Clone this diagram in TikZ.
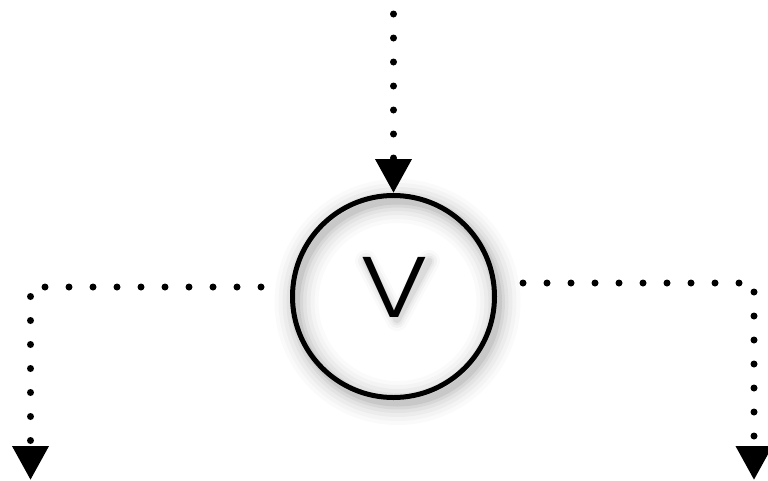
\documentclass[tikz,border=0pt]{standalone}
\usepackage{fontspec}
\IfFontExistsTF{Poppins Light}{\newfontfamily\vfont{Poppins Light}}{%
  \IfFontExistsTF{Poppins-Light.otf}{\newfontfamily\vfont{Poppins-Light.otf}}{%
    \newfontfamily\vfont{Poppins}}}
\usetikzlibrary{arrows.meta}
\tikzset{
  dotline/.style={line width=7pt, line cap=round, dash pattern=on 0pt off 24pt,
    -{Triangle[width=35pt,length=34pt]}},
  ring/.style={circle, draw, line width=5pt, minimum size=202pt, inner sep=0pt},
}
\begin{document}
\begin{tikzpicture}[x=1pt,y=-1pt]
\useasboundingbox (0,0) rectangle (768,480);
% glow / shadow of the ring
\foreach \w/\o in {44/0.02,36/0.025,28/0.03,20/0.04,13/0.05,7/0.07}
  \draw[black, opacity=\o, line width=\w pt] (397.5,302) circle[radius=101];
% soft shadow of the letter
\foreach \w/\o in {22/0.02,16/0.03,11/0.04,7/0.06}
  \draw[black, opacity=\o, line width=\w pt, line join=round, line cap=round]
    (366,261) -- (397,320) -- (429,261);
\node[ring] (c) at (393.5,296.5) {};
\node[inner sep=0pt, xscale=1.2, transform shape] (v) at (394,287.5) {\vfont\fontsize{86}{86}\selectfont V};
\coordinate (ts) at (393.5,14);
\coordinate (ls) at (261,287);
\coordinate (le) at (30.5,480);
\coordinate (rs) at (523,283);
\coordinate (re) at (754,480);
\draw[dotline] (ts) -- (c.north);
\draw[dotline] (ls) -| (le);
\draw[dotline] (rs) -| (re);
\end{tikzpicture}
\end{document}
